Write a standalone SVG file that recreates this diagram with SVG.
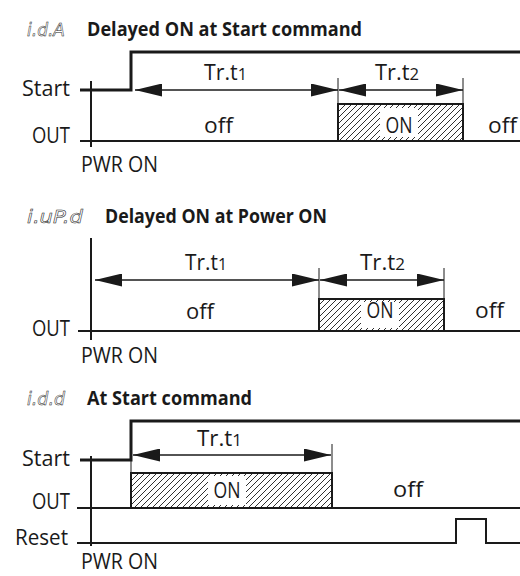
<svg xmlns="http://www.w3.org/2000/svg" width="520" height="576" viewBox="0 0 520 576">
  <defs>
    <style>
      text { font-family: "Open Sans", "Liberation Sans", Arial, sans-serif; fill: #1a1a1a; }
      .lbl { font-size: 21px; }
      .ttl { font-size: 20px; font-weight: bold; }
      .seg { font-family: "DejaVu Sans", sans-serif; font-size: 18px; font-style: italic; fill: none; stroke: #1a1a1a; stroke-width: 0.5; }
      .sig { fill: none; stroke: #1a1a1a; stroke-width: 3; }
      .base { fill: none; stroke: #1a1a1a; stroke-width: 2; }
      .tick { fill: none; stroke: #1a1a1a; stroke-width: 1; }
      .dim { fill: none; stroke: #1a1a1a; stroke-width: 1.5; marker-start: url(#ah); marker-end: url(#ah); }
      .box { fill: url(#hatch); stroke: #1a1a1a; stroke-width: 2; }
      .mid { text-anchor: middle; }
    </style>
    <marker id="ah" markerUnits="userSpaceOnUse" markerWidth="27" markerHeight="13" viewBox="0 0 27 13" refX="27" refY="6.5" orient="auto-start-reverse">
      <path d="M0,0 L27,6.5 L0,13 Z" fill="#1a1a1a"/>
    </marker>
    <pattern id="hatch" patternUnits="userSpaceOnUse" width="6" height="6">
      <rect width="6" height="6" fill="#fff"/>
      <path d="M-1,1 L1,-1 M0,6 L6,0 M5,7 L7,5" stroke="#1a1a1a" stroke-width="0.9"/>
    </pattern>
  </defs>
  <rect width="520" height="576" fill="#fff"/>

  <!-- Section 1: i.d.A -->
  <g id="sec1">
    <text class="seg" x="27" y="36" textLength="38" lengthAdjust="spacingAndGlyphs">i.d.A</text>
    <text class="ttl" x="87" y="36" textLength="275" lengthAdjust="spacingAndGlyphs">Delayed ON at Start command</text>
    <text class="lbl" x="22" y="96" textLength="48" lengthAdjust="spacingAndGlyphs">Start</text>
    <text class="lbl" x="32" y="143" textLength="38" lengthAdjust="spacingAndGlyphs">OUT</text>
    <text class="lbl" x="81" y="172" textLength="77" lengthAdjust="spacingAndGlyphs">PWR ON</text>
    <rect class="box" x="338" y="104" width="125" height="37"/>
    <rect x="380" y="108" width="38" height="29" fill="#fff"/>
    <text class="lbl mid" x="399" y="133" textLength="27" lengthAdjust="spacingAndGlyphs">ON</text>
    <text class="lbl" x="204" y="133" textLength="29" lengthAdjust="spacingAndGlyphs">off</text>
    <text class="lbl" x="488" y="133" textLength="29" lengthAdjust="spacingAndGlyphs">off</text>
    <text class="lbl" x="204" y="80" textLength="43" lengthAdjust="spacingAndGlyphs">Tr.t<tspan font-size="16">1</tspan></text>
    <text class="lbl" x="375" y="80" textLength="44" lengthAdjust="spacingAndGlyphs">Tr.t<tspan font-size="16">2</tspan></text>
  </g>
  <g id="sec1-lines">
    <path class="sig" d="M80,90 H131 V52 H520"/>
    <path class="base" d="M91,81 V147"/>
    <path class="base" d="M80,141 H520"/>
    <path class="tick" d="M338,78 V104 M463,78 V104"/>
    <path class="dim" d="M135,90 H338"/>
    <path class="dim" d="M339,90 H463"/>
  </g>

  <!-- Section 2: i.uP.d -->
  <g id="sec2">
    <text class="seg" x="27" y="223" textLength="56" lengthAdjust="spacingAndGlyphs">i.uP.d</text>
    <text class="ttl" x="105" y="223" textLength="222" lengthAdjust="spacingAndGlyphs">Delayed ON at Power ON</text>
    <text class="lbl" x="32" y="336" textLength="38" lengthAdjust="spacingAndGlyphs">OUT</text>
    <text class="lbl" x="81" y="363" textLength="77" lengthAdjust="spacingAndGlyphs">PWR ON</text>
    <rect class="box" x="319" y="299" width="125" height="32"/>
    <rect x="361" y="302" width="38" height="26" fill="#fff"/>
    <text class="lbl mid" x="380" y="318" textLength="27" lengthAdjust="spacingAndGlyphs">ON</text>
    <text class="lbl" x="186" y="319" textLength="28" lengthAdjust="spacingAndGlyphs">off</text>
    <text class="lbl" x="475" y="318" textLength="29" lengthAdjust="spacingAndGlyphs">off</text>
    <text class="lbl" x="185" y="270" textLength="42" lengthAdjust="spacingAndGlyphs">Tr.t<tspan font-size="16">1</tspan></text>
    <text class="lbl" x="360" y="270" textLength="45" lengthAdjust="spacingAndGlyphs">Tr.t<tspan font-size="16">2</tspan></text>
  </g>
  <g id="sec2-lines">
    <path class="base" d="M91,238 V340"/>
    <path class="base" d="M78,331 H520"/>
    <path class="tick" d="M319,268 V299 M444,268 V299"/>
    <path class="dim" d="M95,280 H319"/>
    <path class="dim" d="M320,280 H444"/>
  </g>

  <!-- Section 3: i.d.d -->
  <g id="sec3">
    <text class="seg" x="27" y="405" textLength="38" lengthAdjust="spacingAndGlyphs">i.d.d</text>
    <text class="ttl" x="87" y="405" textLength="165" lengthAdjust="spacingAndGlyphs">At Start command</text>
    <text class="lbl" x="22" y="466" textLength="48" lengthAdjust="spacingAndGlyphs">Start</text>
    <text class="lbl" x="32" y="509" textLength="38" lengthAdjust="spacingAndGlyphs">OUT</text>
    <text class="lbl" x="15" y="545" textLength="53" lengthAdjust="spacingAndGlyphs">Reset</text>
    <text class="lbl" x="81" y="569" textLength="77" lengthAdjust="spacingAndGlyphs">PWR ON</text>
    <rect class="box" x="131" y="473" width="201" height="35"/>
    <rect x="208" y="476" width="38" height="29" fill="#fff"/>
    <text class="lbl mid" x="227" y="498" textLength="27" lengthAdjust="spacingAndGlyphs">ON</text>
    <text class="lbl" x="393" y="497" textLength="30" lengthAdjust="spacingAndGlyphs">off</text>
    <text class="lbl" x="197" y="446" textLength="45" lengthAdjust="spacingAndGlyphs">Tr.t<tspan font-size="16">1</tspan></text>
  </g>
  <g id="sec3-lines">
    <path class="sig" d="M80,460 H131 V421 H520"/>
    <path class="base" d="M91,456 V546"/>
    <path class="base" d="M77,508 H520"/>
    <path class="base" d="M77,543 H456 V519 H486 V543 H520"/>
    <path class="tick" d="M131,455 V473 M332,444 V473"/>
    <path class="dim" d="M133,455 H331"/>
  </g>
</svg>
